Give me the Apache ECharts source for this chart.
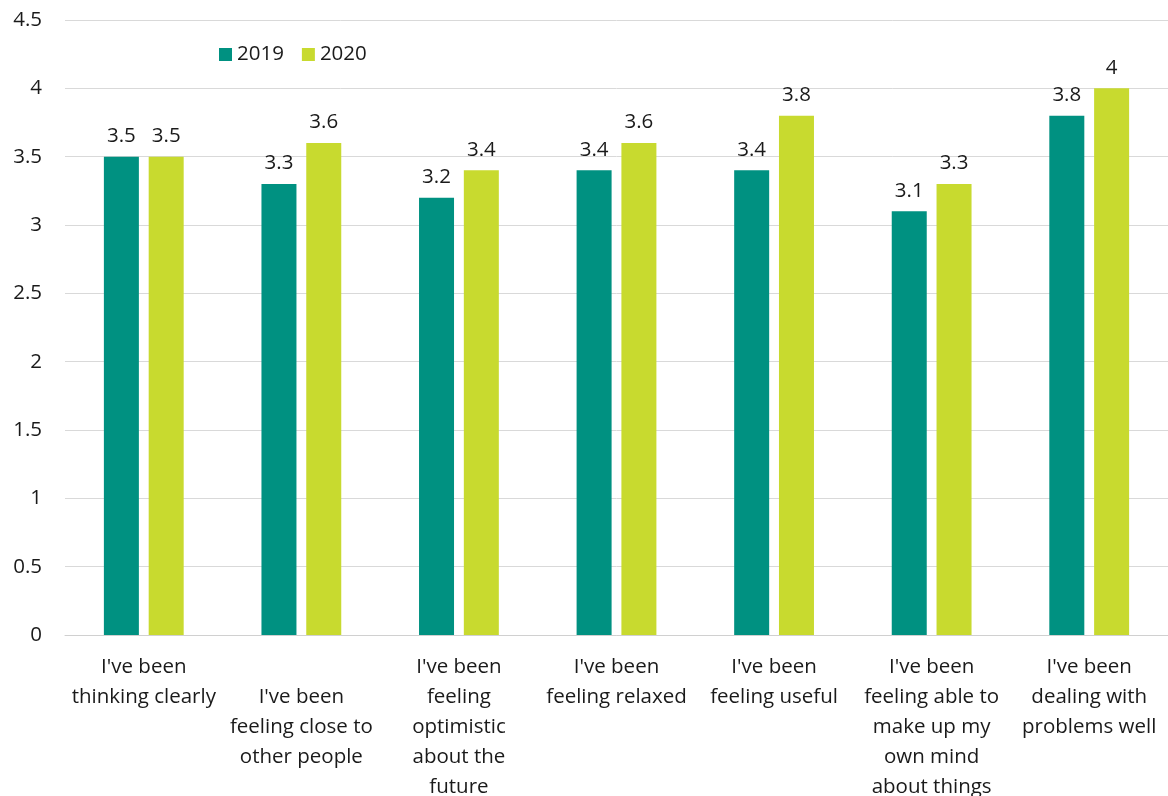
<!DOCTYPE html>
<html>
<head>
<meta charset="utf-8">
<script src="https://cdn.jsdelivr.net/npm/echarts@6/dist/echarts.min.js"></script>
<style>
html,body{margin:0;padding:0;background:#fff;}
#c{width:1168px;height:796px;}
</style>
</head>
<body>
<div id="c"></div>
<script>
const categories = [
  "I've been\nthinking clearly",
  "I've been\nfeeling close to\nother people",
  "I've been\nfeeling\noptimistic\nabout the\nfuture",
  "I've been\nfeeling relaxed",
  "I've been\nfeeling useful",
  "I've been\nfeeling able to\nmake up my\nown mind\nabout things",
  "I've been\ndealing with\nproblems well"
];
const seriesNames = ['2019', '2020'];
const values2019 = [3.5, 3.3, 3.2, 3.4, 3.4, 3.1, 3.8];
const values2020 = [3.5, 3.6, 3.4, 3.6, 3.8, 3.3, 4];
const yTicks = { min: 0, max: 4.5, interval: 0.5 };

const FONT = 'Open Sans';
const TXT = '#1a1a1a';
const FS = 20.5;
const chart = echarts.init(document.getElementById('c'));
chart.setOption({
  animation: false,
  textStyle: { fontFamily: FONT },
  legend: {
    data: seriesNames,
    left: 214, top: 39,
    itemWidth: 13, itemHeight: 13, itemGap: 18,
    icon: 'rect',
    textStyle: { fontSize: FS, color: TXT, fontFamily: FONT }
  },
  grid: { left: 65, right: 0, top: 20, bottom: 161, containLabel: false, outerBoundsMode: 'none' },
  xAxis: {
    type: 'category',
    data: categories,
    axisLine: { lineStyle: { color: '#d0d0d0' } },
    axisTick: { show: false },
    axisLabel: {
      interval: 0, margin: 17, fontSize: FS, lineHeight: 30, color: TXT,
      fontFamily: FONT,
      formatter: (v, i) => (i === 1 ? '\n' + v : v)
    }
  },
  yAxis: {
    type: 'value',
    min: yTicks.min, max: yTicks.max, interval: yTicks.interval,
    axisLine: { show: false },
    axisTick: { show: false },
    splitLine: { lineStyle: { color: '#d9d9d9' } },
    axisLabel: { fontSize: FS, color: TXT, margin: 23, fontFamily: FONT }
  },
  series: [
    {
      name: seriesNames[0], type: 'bar', data: values2019,
      barWidth: 35, barGap: '28%',
      itemStyle: { color: '#009181' },
      label: { show: true, position: 'top', distance: 10, fontSize: FS, color: TXT, fontFamily: FONT }
    },
    {
      name: seriesNames[1], type: 'bar', data: values2020,
      barWidth: 35,
      itemStyle: { color: '#c8da2f' },
      label: { show: true, position: 'top', distance: 10, fontSize: FS, color: TXT, fontFamily: FONT }
    }
  ]
});
</script>
</body>
</html>
